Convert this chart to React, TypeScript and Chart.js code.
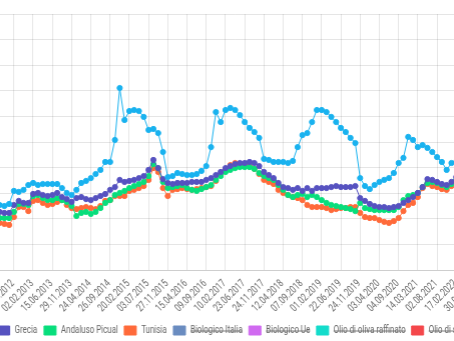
import React, { useEffect, useRef } from 'react';
import { Chart, registerables } from 'chart.js';
Chart.register(...registerables);

const tickDates = ['25.11.2011','20.04.2012','14.09.2012','02.02.2013','15.06.2013','29.11.2013','24.04.2014','26.09.2014','20.02.2015','03.07.2015','27.11.2015','15.04.2016','09.09.2016','10.02.2017','23.06.2017','24.11.2017','12.04.2018','07.09.2018','01.02.2019','22.06.2019','24.11.2019','03.04.2020','04.09.2020','14.03.2021','02.08.2021','17.02.2022','30.06.2022','18.11.2022'];
const STEP = 4;

const italia = [2.34,2.42,2.34,2.46,2.50,2.54,2.50,2.58,3.09,3.05,
3.13,3.32,3.40,3.32,3.36,3.36,3.36,3.36,3.20,3.01,
2.93,3.13,3.40,3.48,3.59,3.75,3.91,4.22,4.22,5.08,
7.11,5.86,6.21,6.25,6.21,5.98,5.47,5.51,5.35,4.61,
3.63,3.67,3.79,3.75,3.71,3.71,3.75,3.87,4.06,4.80,
6.17,5.78,6.25,6.33,6.25,6.05,5.78,5.55,5.39,5.16,
4.34,4.30,4.22,4.22,4.22,4.18,4.26,4.80,5.27,5.35,
5.78,6.25,6.25,6.17,5.98,5.78,5.55,5.39,5.16,4.96,
3.59,3.28,3.16,3.32,3.44,3.52,3.59,3.79,4.18,4.38,
5.20,5.08,4.80,4.88,4.77,4.61,4.41,4.22,3.91,4.18,
4.22,4.38,4.49,4.69,4.77,4.88,5.00,5.08,5.16];

const grecia = [2.19,2.23,2.19,2.27,2.23,2.27,2.23,2.23,2.54,2.70,
2.62,2.62,2.97,3.01,2.93,2.89,2.93,3.01,2.85,2.77,
2.66,2.81,2.85,2.77,2.73,2.81,2.89,2.97,3.13,3.24,
3.52,3.44,3.48,3.52,3.59,3.67,3.91,4.30,3.98,3.55,
3.40,3.36,3.40,3.40,3.40,3.44,3.44,3.44,3.52,3.59,
3.71,3.83,3.98,4.06,4.14,4.18,4.18,4.22,4.18,4.06,
3.83,3.71,3.59,3.40,3.24,3.20,3.13,3.20,3.09,3.20,
3.09,3.20,3.20,3.20,3.24,3.28,3.24,3.24,3.24,3.28,
2.81,2.70,2.58,2.50,2.46,2.46,2.42,2.46,2.50,2.62,
2.73,2.85,3.01,3.24,3.55,3.52,3.44,3.36,3.32,3.44,
3.63,3.67,3.71,3.79,3.83,3.87,3.91,3.95,3.98];

const andaluso = [1.99,2.03,1.99,2.03,2.07,2.03,2.03,2.03,2.27,2.58,
2.58,2.54,2.89,2.93,2.81,2.73,2.73,2.81,2.73,2.66,
2.50,2.11,2.23,2.27,2.19,2.27,2.42,2.62,2.73,2.93,
3.01,3.09,3.20,3.28,3.36,3.44,3.67,4.14,3.98,3.44,
3.20,3.24,3.28,3.32,3.20,3.13,3.09,3.16,3.24,3.32,
3.52,3.67,3.83,3.91,3.98,4.02,4.02,4.02,3.95,3.79,
3.67,3.59,3.52,3.32,3.13,2.93,2.85,2.93,2.97,2.85,
2.93,2.85,2.73,2.62,2.54,2.50,2.46,2.42,2.38,2.30,
2.62,2.42,2.38,2.34,2.34,2.34,2.34,2.34,2.46,2.73,
2.89,2.93,3.01,3.24,3.40,3.44,3.40,3.32,3.24,3.36,
3.52,3.55,3.59,3.67,3.71,3.75,3.79,3.83,3.87];

const tunisia = [1.80,1.84,1.80,1.84,1.80,1.84,1.80,1.76,2.07,2.46,
2.46,2.30,2.70,2.73,2.62,2.54,2.58,2.66,2.73,2.54,
2.42,2.38,2.42,2.46,2.42,2.38,2.50,2.70,2.73,2.89,
2.89,2.89,3.09,3.13,3.20,3.28,3.52,3.98,3.83,3.20,
2.89,3.13,3.16,3.20,3.16,3.13,3.16,3.20,3.24,3.28,
3.48,3.71,3.95,4.10,4.18,4.14,4.10,4.06,3.95,3.75,
3.52,3.44,3.36,3.13,3.01,2.93,2.85,2.81,2.73,2.54,
2.46,2.46,2.46,2.42,2.34,2.38,2.42,2.42,2.46,2.46,
2.23,2.07,2.03,2.03,1.95,1.88,1.84,1.91,2.03,2.30,
2.54,2.62,2.85,3.20,3.36,3.28,3.24,3.16,3.13,3.28,
3.44,3.48,3.52,3.59,3.63,3.67,3.71,3.75,3.79];

const seriesNames = ['Italia','Grecia','Andaluso Picual','Tunisia','Biologico Italia','Biologico Ue','Olio di oliva raffinato','Olio di sansa'];
const seriesColors = ['#19b2ef','#5652c0','#08de7c','#ff6a3a','#6a8cc0','#d06af0','#14dccb','#f4474b'];
const hiddenFlags = [false,false,false,false,true,true,true,true];

const labels = italia.map((_, i) => (i % STEP === 0 ? tickDates[i / STEP] : ''));

const TEXT_FONT = 'Roboto';
const TEXT_SIZE = 11;
const SQUEEZE = 0.72;
const LAYOUT_SIZE = 7.8;
const TEXT_COLOR = '#666';

const condensedText = {
  id: 'condensedText',
  afterDraw(chart: any) {
    const ctx = chart.ctx as CanvasRenderingContext2D;
    const xs = chart.scales.x;
    ctx.save();
    ctx.fillStyle = TEXT_COLOR;
    ctx.font = `${TEXT_SIZE}px ${TEXT_FONT}`;
    for (let i = 0; i < labels.length; i += STEP) {
      const x = xs.getPixelForValue(i);
      ctx.save();
      ctx.translate(x - 1, xs.top + 12);
      ctx.rotate(-Math.PI / 4);
      ctx.scale(SQUEEZE, 1);
      ctx.textAlign = 'right';
      ctx.textBaseline = 'middle';
      ctx.fillText(labels[i], 0, 0);
      ctx.restore();
    }
    const lg = chart.legend;
    lg.legendItems.forEach((item: any, i: number) => {
      const hb = lg.legendHitBoxes[i];
      ctx.save();
      ctx.translate(hb.left + 17, hb.top + hb.height / 2);
      ctx.scale(SQUEEZE, 1);
      ctx.textAlign = 'left';
      ctx.textBaseline = 'middle';
      ctx.fillText(item.text, 0, 0);
      if (item.hidden) {
        const w = ctx.measureText(item.text).width;
        ctx.strokeStyle = TEXT_COLOR;
        ctx.lineWidth = 1;
        ctx.beginPath();
        ctx.moveTo(0, 0.5);
        ctx.lineTo(w, 0.5);
        ctx.stroke();
      }
      ctx.restore();
    });
    ctx.restore();
  },
};

export default function App() {
  const ref = useRef<HTMLCanvasElement>(null);
  useEffect(() => {
    const values = [italia, grecia, andaluso, tunisia, [], [], [], []];
    const chart = new Chart(ref.current!, {
      type: 'line',
      data: {
        labels,
        datasets: seriesNames.map((name, k) => ({
          label: name,
          data: values[k] as number[],
          borderColor: seriesColors[k],
          backgroundColor: seriesColors[k],
          pointBackgroundColor: seriesColors[k],
          pointBorderColor: seriesColors[k],
          borderWidth: 1,
          pointRadius: 2.6,
          pointBorderWidth: 1,
          tension: 0,
          fill: false,
          hidden: hiddenFlags[k],
        })),
      },
      options: {
        animation: false,
        responsive: true,
        maintainAspectRatio: false,
        layout: { padding: { top: 14, left: 0, right: 0, bottom: 0 } },
        plugins: {
          tooltip: { enabled: false },
          legend: {
            position: 'bottom',
            labels: { boxWidth: 12, boxHeight: 9, padding: 8.2, color: 'rgba(0,0,0,0)', font: { size: LAYOUT_SIZE, family: TEXT_FONT } },
          },
        },
        scales: {
          x: {
            afterFit: (s: any) => { s.height = 47.8; },
            ticks: { display: false, autoSkip: false },
            grid: {
              drawTicks: false,
              color: (ctx: any) => (ctx.index % STEP === 0 ? 'rgba(0,0,0,0.1)' : 'rgba(0,0,0,0)'),
            },
            border: { display: true, color: 'rgba(0,0,0,0.1)' },
          },
          y: {
            min: 0, max: 10,
            afterFit: (s: any) => { s.width = 46.4; },
            ticks: { display: false, stepSize: 1 },
            grid: { drawTicks: false, color: 'rgba(0,0,0,0.1)' },
            border: { display: false },
          },
        },
      },
      plugins: [condensedText],
    });
    return () => chart.destroy();
  }, []);
  return (
    <div style={{ position: 'fixed', left: 0, top: 0, width: 454, height: 341, overflow: 'hidden', background: '#fff' }}>
      <div style={{ position: 'absolute', left: -70.8, top: 0, width: 569.7, height: 345 }}>
        <canvas ref={ref} />
      </div>
    </div>
  );
}
